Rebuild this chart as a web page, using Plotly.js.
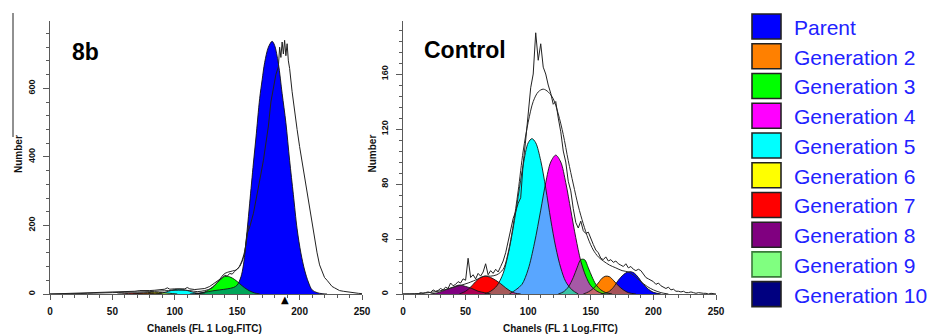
<!DOCTYPE html>
<html><head><meta charset="utf-8">
<script src="https://cdn.plot.ly/plotly-3.0.1.min.js"></script>
<style>html,body{margin:0;padding:0;background:#fff;}#chart{width:928px;height:334px;}</style>
</head><body><div id="chart"></div>
<script>
// ---------- legend ----------
const legendNames = ['Parent','Generation 2','Generation 3','Generation 4','Generation 5','Generation 6','Generation 7','Generation 8','Generation 9','Generation 10'];
const legendColors = ['#0000ff','#ff8000','#00ff00','#ff00ff','#00ffff','#ffff00','#ff0000','#800080','#80ff80','#000080'];
const legendBorders = ['#222','#222','#222','#222','#222','#222','#222','#222','#3a7a3a','#222'];

// ---------- panel labels ----------
const panelLabels = ['8b','Control'];
const axisTitleX = 'Chanels (FL 1 Log.FITC)';
const axisTitleY = 'Number';

// ---------- left panel (8b) ----------
const leftDataX = [0,4,8,12,16,20,24,28,32,36,40,44,48,52,56,60,64,68,72,76,80,84,88,92,94,96,100,104,108,110,112,116,120,124,128,132,134,136,138,140,142,144,146,148,150,152,154,156,158,160,163,165,167,169,171,173,175,177,179,181,183,184,185,186,187,188,189,190,191,192,194,196,198,200,202,204,206,208,210,212,214,216,218,220,222,224,226,228,230,232,235,238,241,244,247,250];
const leftDataY = [0,0.5,1,0.5,1,1.5,2,2,3,3,4,5,5,6,6,7,7,8,10,9,10,11,12,14,18,14,15,16,15,19,15,13,14,16,22,32,38,42,48,55,52,60,58,66,72,80,95,120,178,195,235,270,310,350,390,440,490,560,600,640,663,720,690,735,700,740,695,730,680,658,590,530,480,430,385,340,295,250,200,160,120,85,65,48,40,30,22,18,14,10,8,6,4,3,2,1];
const leftEnvX = [0,20,40,60,80,95,105,112,118,124,130,135,140,145,150,153,156,159];
const leftEnvY = [0,1,3,5,7,10,11,10,7,10,18,38,60,66,72,90,125,200];
const leftParentX = [112,118,124,130,136,142,147,150,153,155,158,160,163,165,168,170,172,175,178,180,183,186,189,192,195,198,201,204,207,210,214,218,222];
const leftParentY = [0,2,5,9,12,15,19,26,50,85,187,265,382,455,570,625,675,720,737,725,672,585,500,390,290,190,120,70,35,12,4,1,0];
const leftGen3X = [116,120,124,128,132,136,140,144,148,152,156,160,164,168];
const leftGen3Y = [0,2,6,14,26,40,51,50,42,30,18,9,3,0];
const leftGen5X = [85,90,95,100,104,108,112,116,120,124];
const leftGen5Y = [0,3,8,13,14,12,8,4,1,0];
const leftGen6X = [66,72,78,84,90,96,102];
const leftGen6Y = [0,2,4,5,4,2,0];
const leftGen7X = [54,60,66,72,78,84,90];
const leftGen7Y = [0,1,2.5,3,2,1,0];
const leftMeanMarker = [188];

// ---------- right panel (Control) ----------
const rightDataX = [0,2,4,6,8,10,12,14,16,18,20,22,24,26,28,30,32,34,36,38,40,42,44,46,48,50,52,54,56,58,60,62,64,66,68,70,72,74,76,78,80,82,84,86,88,90,92,94,96,98,100,102,104,106,108,110,112,114,116,118,120,122,124,126,128,130,132,134,136,138,140,142,144,146,148,150,152,154,156,158,160,162,164,166,168,170,172,174,176,178,180,182,184,186,188,190,192,194,196,198,200,202,204,206,208,210,212,214,216,218,220,222,224,226,228,230,232,234,236,238,240,242,244,246,248,250];
const rightDataY = [0,0,0,0.5,0,0.5,0,1,0.5,1,1.5,1,3,2,2.5,4,3,5,4,8,6,7,9,8,11,10,26,12,14,11,15,13,16,22,14,17,15,18,16,20,24,30,38,46,55,60,66,70,95,112,134,150,160,190,170,182,165,160,152,146,138,140,128,118,104,96,82,75,62,52,48,53,46,44,45,40,36,32,30,26,25,27,24,25,23,24,22,21,20,22,19,20,18,17,18,17,14,12,11,10,9,7,8,6,5,4,5,3,3.5,2,2,1.5,2,1,1,1.5,1,0.5,1,0.5,0.5,0.5,0,0.5,0,0];
const rightEnvX = [0,15,28,41,52,60,65,70,75,80,84,88,92,96,100,104,108,112,116,120,124,128,132,136,140,144,148,152,156,160,165,170,175,180,185,190,195,200,206,212];
const rightEnvY = [0,0.5,2,5,8,11,13,13,14,18,30,50,75,104,125,140,147,149,147,142,131,116,97,80,64,51,40,32,27,24,21,19,17,16,13,9,5.5,3,1,0];
const rightParentX = [158,164,168,172,176,179,182,185,188,192,196,200,206];
const rightParentY = [0,1.5,4.8,10,14,15.8,16.2,15,12,7,3.5,1.2,0];
const rightGen2X = [144,148,152,156,159,162,165,168,172,176,180,186];
const rightGen2Y = [0,1.5,4,8,11.5,13,12.5,10,6,3,1,0];
const rightGen3X = [124,128,132,136,139,142,145,148,151,154,158,162,167];
const rightGen3Y = [0,1.5,5,12,19,25,25,19,12.5,7,3,1,0];
const rightGen4X = [85,90,95,100,105,110,114,118,122,126,130,134,138,142,146,150,155,160];
const rightGen4Y = [0,3,7,18,37,61,81,96,101,96,81,61,41,24,13,6,2,0];
const rightGen5X = [65,70,75,80,84,88,92,96,100,103,106,110,114,118,122,126,130,135,140];
const rightGen5Y = [0,2,6,15,29,48,71,94,110,113,110,97,77,54,34,19,9,3,0];
const rightGen7X = [45,50,54,58,62,66,70,74,78,82,86,90,94];
const rightGen7Y = [0,2,5,9,12,13,12,10,7.5,4.5,2,0.5,0];
const rightGen8X = [22,28,34,40,45,50,55,60,65,70];
const rightGen8Y = [0,1,3,5,6.5,5.5,4,2,1,0];

// ---------- build ----------
const FONT = 'Liberation Sans, Arial, sans-serif';
const W = 928, H = 334;
const pxX = v => v / W;
const pxY = v => 1 - v / H;

function rgba(hex, a) {
  const n = parseInt(hex.slice(1), 16);
  return 'rgba(' + ((n >> 16) & 255) + ',' + ((n >> 8) & 255) + ',' + (n & 255) + ',' + a + ')';
}

const traces = [];
function addPanel(comps, xa, ya, dataX, dataY, envX, envY) {
  // opaque pass: parent first, higher generations on top
  comps.forEach(c => traces.push({
    type: 'scatter', mode: 'lines', x: c.x, y: c.y, xaxis: xa, yaxis: ya,
    line: {color: 'rgba(0,0,0,0)', width: 0, shape: 'spline', smoothing: 0.9},
    fill: 'tozeroy', fillcolor: legendColors[c.g], hoverinfo: 'skip', showlegend: false
  }));
  // translucent pass: reverse order gives the blended overlaps
  comps.slice().reverse().forEach(c => traces.push({
    type: 'scatter', mode: 'lines', x: c.x, y: c.y, xaxis: xa, yaxis: ya,
    line: {color: 'rgba(0,0,0,0)', width: 0, shape: 'spline', smoothing: 0.9},
    fill: 'tozeroy', fillcolor: rgba(legendColors[c.g], 0.35), hoverinfo: 'skip', showlegend: false
  }));
  // outlines
  comps.forEach(c => traces.push({
    type: 'scatter', mode: 'lines', x: c.x, y: c.y, xaxis: xa, yaxis: ya,
    line: {color: '#141414', width: 0.9, shape: 'spline', smoothing: 0.9},
    hoverinfo: 'skip', showlegend: false
  }));
  traces.push({type: 'scatter', mode: 'lines', x: envX, y: envY, xaxis: xa, yaxis: ya,
    line: {color: '#2a2a2a', width: 1, shape: 'spline', smoothing: 0.9}, hoverinfo: 'skip', showlegend: false});
  traces.push({type: 'scatter', mode: 'lines', x: dataX, y: dataY, xaxis: xa, yaxis: ya,
    line: {color: '#222', width: 1}, hoverinfo: 'skip', showlegend: false});
}

addPanel([
  {g: 0, x: leftParentX, y: leftParentY},
  {g: 2, x: leftGen3X, y: leftGen3Y},
  {g: 4, x: leftGen5X, y: leftGen5Y},
  {g: 5, x: leftGen6X, y: leftGen6Y},
  {g: 6, x: leftGen7X, y: leftGen7Y}
], 'x', 'y', leftDataX, leftDataY, leftEnvX, leftEnvY);

addPanel([
  {g: 0, x: rightParentX, y: rightParentY},
  {g: 1, x: rightGen2X, y: rightGen2Y},
  {g: 2, x: rightGen3X, y: rightGen3Y},
  {g: 3, x: rightGen4X, y: rightGen4Y},
  {g: 4, x: rightGen5X, y: rightGen5Y},
  {g: 6, x: rightGen7X, y: rightGen7Y},
  {g: 7, x: rightGen8X, y: rightGen8Y}
], 'x2', 'y2', rightDataX, rightDataY, rightEnvX, rightEnvY);

const yDom = [pxY(294), pxY(21.1)];
const axCol = '#5a5a5a';
function xAxis(dom, anchor) {
  return {domain: dom, anchor: anchor, range: [0, 250], showline: true, linecolor: axCol, linewidth: 1,
    ticks: 'outside', ticklen: 5, tickwidth: 1, tickcolor: axCol, tick0: 0, dtick: 50,
    minor: {ticks: 'outside', ticklen: 3, tickwidth: 1, tickcolor: axCol, dtick: 10, tick0: 0, showgrid: false},
    showgrid: false, zeroline: false, fixedrange: true, ticklabelstandoff: 3,
    tickfont: {family: FONT, size: 10, color: '#111', weight: 'bold'}};
}
function yAxis(range, dt, minorDt, anchor) {
  return {domain: yDom, anchor: anchor, range: range, showline: true, linecolor: axCol, linewidth: 1,
    ticks: 'outside', ticklen: 6, tickwidth: 1, tickcolor: axCol, tick0: 0, dtick: dt,
    minor: {ticks: 'outside', ticklen: 3, tickwidth: 1, tickcolor: axCol, dtick: minorDt, tick0: 0, showgrid: false},
    showgrid: false, zeroline: false, fixedrange: true, tickangle: -90, ticklabelstandoff: 4,
    tickfont: {family: FONT, size: 9, color: '#111', weight: 'bold'}};
}

const annotations = [];
const shapes = [];
// mean marker (triangle) just below the left x axis
leftMeanMarker.forEach(ch => annotations.push({text: '▲', xref: 'x', yref: 'paper', x: ch, y: pxY(299.5),
  xanchor: 'center', yanchor: 'middle', showarrow: false, font: {family: 'DejaVu Sans', size: 10, color: '#000'}}));
// panel labels
annotations.push({text: panelLabels[0], xref: 'paper', yref: 'paper', x: pxX(70), y: pxY(51.5), xanchor: 'left', yanchor: 'middle',
  showarrow: false, font: {family: FONT, size: 23, color: '#000', weight: 'bold'}});
annotations.push({text: panelLabels[1], xref: 'paper', yref: 'paper', x: pxX(422), y: pxY(50), xanchor: 'left', yanchor: 'middle',
  showarrow: false, font: {family: FONT, size: 23, color: '#000', weight: 'bold'}});
// axis titles
[[204, 18], [560, 371.5]].forEach(([cx, ly]) => {
  annotations.push({text: axisTitleX, xref: 'paper', yref: 'paper', x: pxX(cx), y: pxY(328.5), xanchor: 'center', yanchor: 'middle',
    showarrow: false, font: {family: FONT, size: 10, color: '#111', weight: 'bold'}});
  annotations.push({text: axisTitleY, xref: 'paper', yref: 'paper', x: pxX(ly), y: pxY(154), xanchor: 'center', yanchor: 'middle',
    textangle: -90, showarrow: false, font: {family: FONT, size: 10, color: '#111', weight: 'bold'}});
});
// legend
legendNames.forEach((name, i) => {
  const top = 14 + i * 29.74;
  shapes.push({type: 'rect', xref: 'paper', yref: 'paper', x0: pxX(752), x1: pxX(781), y0: pxY(top), y1: pxY(top + 25),
    fillcolor: legendColors[i], line: {color: legendBorders[i], width: 1.6}});
  annotations.push({text: name, xref: 'paper', yref: 'paper', x: pxX(792), y: pxY(top + 13.5), xanchor: 'left', yanchor: 'middle',
    showarrow: false, font: {family: FONT, size: 21, color: '#2222ff'}});
});
// stray vertical rule at the left edge of the source image
shapes.push({type: 'line', xref: 'paper', yref: 'paper', x0: pxX(13), x1: pxX(13), y0: pxY(13), y1: pxY(137),
  line: {color: '#222', width: 1}});

const layout = {
  width: W, height: H, margin: {l: 0, r: 0, t: 0, b: 0}, paper_bgcolor: '#fff', plot_bgcolor: 'rgba(0,0,0,0)',
  showlegend: false, font: {family: FONT},
  xaxis: xAxis([pxX(50), pxX(362)], 'y'),
  yaxis: yAxis([0, 796], 200, 40, 'x'),
  xaxis2: xAxis([pxX(403), pxX(716)], 'y2'),
  yaxis2: yAxis([0, 198.5], 40, 8, 'x2'),
  annotations: annotations, shapes: shapes
};
Plotly.newPlot('chart', traces, layout, {staticPlot: true, displayModeBar: false});
</script>
</body></html>
